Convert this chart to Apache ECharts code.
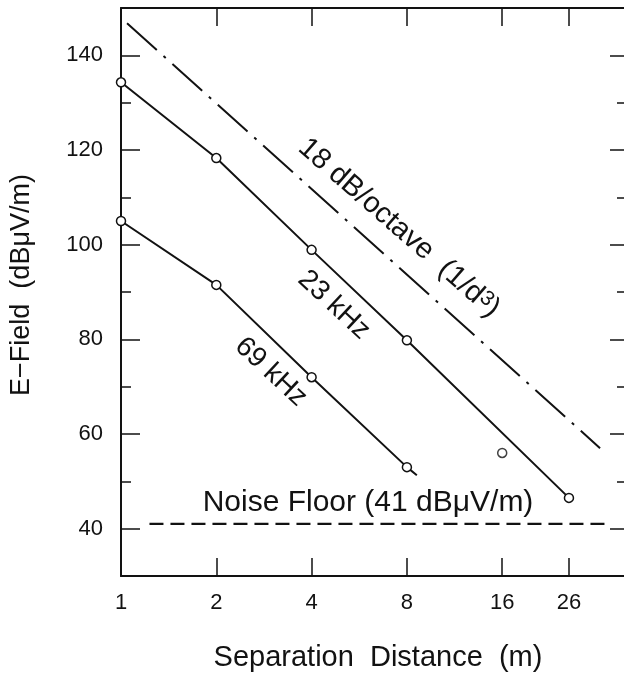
<!DOCTYPE html>
<html><head><meta charset="utf-8">
<script src="https://cdn.jsdelivr.net/npm/echarts@6/dist/echarts.min.js"></script>
<style>html,body{margin:0;padding:0;background:#fff}#c{width:624px;height:676px}</style>
</head><body><div id="c"></div>
<script>
// ---- data ----
const xTickLabels = [1, 2, 4, 8, 16, 26];
const xTicks = [2, 4, 8, 16, 26];
const yMajorTicks = [40, 60, 80, 100, 120, 140];
const yMinorTicks = [50, 70, 90, 110, 130];
const khz23Line = [[1, 134.3], [2, 118.3], [4, 98.9], [8, 79.8], [26, 46.5]];
const khz23Outlier = [[16, 56]];
const khz69Line = [[1, 105], [2, 91.5], [4, 72], [8, 53]];
const khz69Tail = [8.6, 51.3];
const slopeLine = [[1.045, 146.8], [32.6, 57]];
const noiseFloor = [[1.23, 41], [35, 41]];

const INK = '#121212';
const FONT = '"Liberation Sans", Arial, Helvetica, sans-serif';

function xAx(pos, showLabel) {
  return {
    type: 'log', logBase: 2, min: 1, max: 38.8, position: pos,
    axisLine: { show: true, onZero: false, lineStyle: { color: INK, width: 2 } },
    axisTick: { show: true, inside: true, length: 18, customValues: xTicks, lineStyle: { color: INK, width: 1.5 } },
    axisLabel: { show: showLabel, customValues: xTickLabels, color: INK, fontSize: 22, fontFamily: FONT, margin: 16 },
    splitLine: { show: false }, minorTick: { show: false }, minorSplitLine: { show: false }
  };
}
function yAx(pos, ticks, len, showLabel, showLine) {
  return {
    type: 'value', min: 30, max: 150, position: pos,
    axisLine: { show: showLine, onZero: false, lineStyle: { color: INK, width: 2 } },
    axisTick: { show: true, inside: true, length: len, customValues: ticks, lineStyle: { color: INK, width: 1.5 } },
    axisLabel: { show: showLabel, customValues: ticks, color: INK, fontSize: 22, fontFamily: FONT, margin: 18 },
    splitLine: { show: false }
  };
}
const circle = { symbol: 'circle', symbolSize: 9, itemStyle: { color: '#fff', borderColor: INK, borderWidth: 1.5 } };

const chart = echarts.init(document.getElementById('c'), null, { renderer: 'canvas' });
chart.setOption({
  backgroundColor: '#fff',
  animation: false,
  grid: { left: 121, top: 8, right: 0, bottom: 100, containLabel: false },
  xAxis: [xAx('bottom', true), xAx('top', false)],
  yAxis: [
    yAx('left', yMajorTicks, 19, true, true),
    yAx('left', yMinorTicks, 10, false, false),
    yAx('right', yMajorTicks, 14, false, false),
    yAx('right', yMinorTicks, 7, false, false)
  ],
  series: [
    Object.assign({ type: 'line', data: khz23Line, showAllSymbol: true, clip: false, z: 5,
      lineStyle: { color: INK, width: 2 } }, circle),
    Object.assign({ type: 'scatter', data: khz23Outlier, clip: false, z: 5 }, circle),
    Object.assign({ type: 'line', data: khz69Line.concat([{ value: khz69Tail, symbol: 'none' }]), showAllSymbol: true, clip: false, z: 5,
      lineStyle: { color: INK, width: 2 } }, circle),
    { type: 'line', data: slopeLine, symbol: 'none', clip: false,
      lineStyle: { color: INK, width: 2, type: [40, 9, 3, 9] } },
    { type: 'line', data: noiseFloor, symbol: 'none', clip: false,
      lineStyle: { color: INK, width: 2.2, type: [14, 7] } }
  ],
  graphic: [
    { type: 'text', x: 399, y: 228, rotation: -41 * Math.PI / 180,
      style: { text: '{a|18 dB/octave  (1/d}{b|3}{a|)}', fill: INK, align: 'center', verticalAlign: 'middle',
        rich: { a: { font: '29px ' + FONT, fill: INK }, b: { font: '21px ' + FONT, fill: INK, verticalAlign: 'top' } } } },
    { type: 'text', x: 334, y: 305, rotation: -43 * Math.PI / 180,
      style: { text: '23 kHz', fill: INK, font: '28px ' + FONT, align: 'center', verticalAlign: 'middle' } },
    { type: 'text', x: 271, y: 372, rotation: -43 * Math.PI / 180,
      style: { text: '69 kHz', fill: INK, font: '28px ' + FONT, align: 'center', verticalAlign: 'middle' } },
    { type: 'text', x: 368, y: 503,
      style: { text: 'Noise Floor (41 dBμV/m)', fill: INK, font: '30px ' + FONT, align: 'center', verticalAlign: 'middle' } },
    { type: 'text', x: 378, y: 658,
      style: { text: 'Separation  Distance  (m)', fill: INK, font: '29px ' + FONT, align: 'center', verticalAlign: 'middle' } },
    { type: 'text', x: 22, y: 285, rotation: Math.PI / 2,
      style: { text: 'E−Field  (dBμV/m)', fill: INK, font: '27px ' + FONT, align: 'center', verticalAlign: 'middle' } }
  ]
});
</script>
</body></html>
